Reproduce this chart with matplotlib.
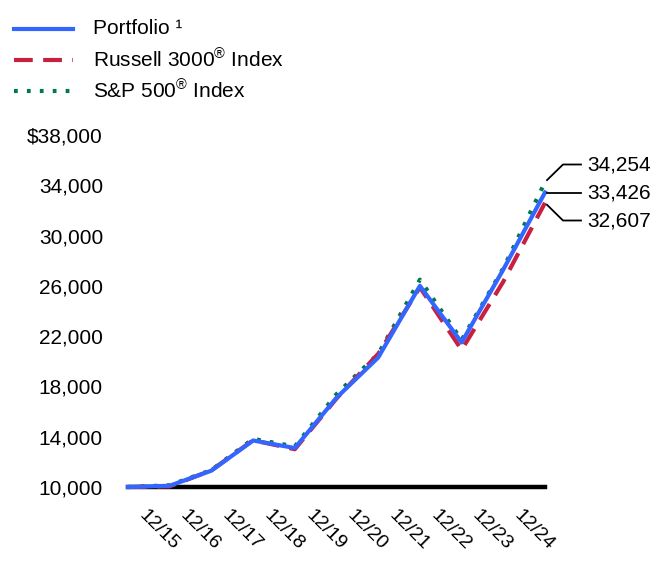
import matplotlib
matplotlib.use("Agg")
import matplotlib.pyplot as plt
from matplotlib.lines import Line2D
import matplotlib.transforms as mtransforms

plt.rcParams['font.family'] = ['Liberation Sans', 'DejaVu Sans']
plt.rcParams['mathtext.fontset'] = 'custom'
plt.rcParams['mathtext.rm'] = 'Liberation Sans'
plt.rcParams['mathtext.it'] = 'Liberation Sans'

# ---- data ----
dates = ["12/14", "12/15", "12/16", "12/17", "12/18", "12/19",
         "12/20", "12/21", "12/22", "12/23", "12/24"]
tick_labels = ["12/15", "12/16", "12/17", "12/18", "12/19",
               "12/20", "12/21", "12/22", "12/23", "12/24"]
portfolio = [10000, 10100, 11300, 13700, 13100, 17100, 20300, 26000, 21500, 27300, 33426]
russell = [10000, 10048, 11328, 13722, 13003, 17036, 20595, 25880, 20909, 26337, 32607]
sp500 = [10000, 10138, 11351, 13829, 13223, 17386, 20585, 26494, 21696, 27400, 34254]
y_ticks = [10000, 14000, 18000, 22000, 26000, 30000, 34000, 38000]
y_tick_labels = ["10,000", "14,000", "18,000", "22,000", "26,000", "30,000", "34,000", "$38,000"]

c_blue = "#3366FF"
c_red = "#C8203F"
c_green = "#00784A"
FS = 15
RED_LS = (0, (4.5, 2.5))
GREEN_LS = (0, (0.9, 2.2))

W, H = 672, 588
fig = plt.figure(figsize=(W / 100, H / 100), dpi=100)
ax = fig.add_axes([128 / W, 1 - 487 / H, (545 - 128) / W, (487 - 135) / H])

x = list(range(len(dates)))
ax.axhline(10000, color="black", lw=3.2, zorder=1, clip_on=False)
ax.plot(x, sp500, color=c_green, lw=3, ls=GREEN_LS, zorder=2, clip_on=False)
ax.plot(x, russell, color=c_red, lw=3, ls=RED_LS, zorder=3, clip_on=False)
ax.plot(x, portfolio, color=c_blue, lw=3, zorder=4, clip_on=False)

ax.set_xlim(0, len(dates) - 1)
ax.set_ylim(10000, 38000)
for s in ax.spines.values():
    s.set_visible(False)
ax.set_yticks(y_ticks)
ax.set_yticklabels(y_tick_labels, fontsize=FS)
ax.set_xticks(range(1, len(dates)))
ax.set_xticklabels(tick_labels, fontsize=14, rotation=-45, ha="center", va="top")
ax.tick_params(axis="both", length=0)
ax.tick_params(axis="y", pad=18)
ax.tick_params(axis="x", pad=14)
off = mtransforms.ScaledTranslation(-11 / 100, 0, fig.dpi_scale_trans)
for lab in ax.get_xticklabels():
    lab.set_transform(lab.get_transform() + off)

# ---- end labels with leader lines ----
fig.canvas.draw()
def to_fig(px, py):
    return px / W, 1 - py / H

ends = [(sp500[-1], -1), (portfolio[-1], 0), (russell[-1], 1)]
center_py = H - ax.transData.transform((x[-1], portfolio[-1]))[1]
for val, k in ends:
    dx, dy = ax.transData.transform((x[-1], val))
    sx, sy = dx + 2, H - dy
    label_y = center_py + k * 28
    if k == 0:
        pts = [(sx, sy), (581, label_y)]
    else:
        pts = [(sx, sy + (-2 if k < 0 else 2)), (563, label_y), (581, label_y)]
    fx = [to_fig(*p)[0] for p in pts]
    fy = [to_fig(*p)[1] for p in pts]
    fig.add_artist(Line2D(fx, fy, color="black", lw=1.3))
    fig.text(587 / W, 1 - label_y / H, f"{val:,}", fontsize=FS, va="center", ha="left")

# ---- legend (manual) ----
leg = [("Portfolio ¹", c_blue, "-"),
       (r"Russell 3000$^{\circledR}$ Index", c_red, RED_LS),
       (r"S&P 500$^{\circledR}$ Index", c_green, GREEN_LS)]
for i, (txt, col, ls) in enumerate(leg):
    py = 29 + i * 31
    fx0, fy = to_fig(14, py)
    fx1, _ = to_fig(73, py)
    fig.add_artist(Line2D([fx0, fx1], [fy, fy], color=col, lw=3, ls=ls))
    fig.text(93 / W, fy, txt, fontsize=FS, va="center", ha="left")

fig.savefig("out.png", dpi=100)
